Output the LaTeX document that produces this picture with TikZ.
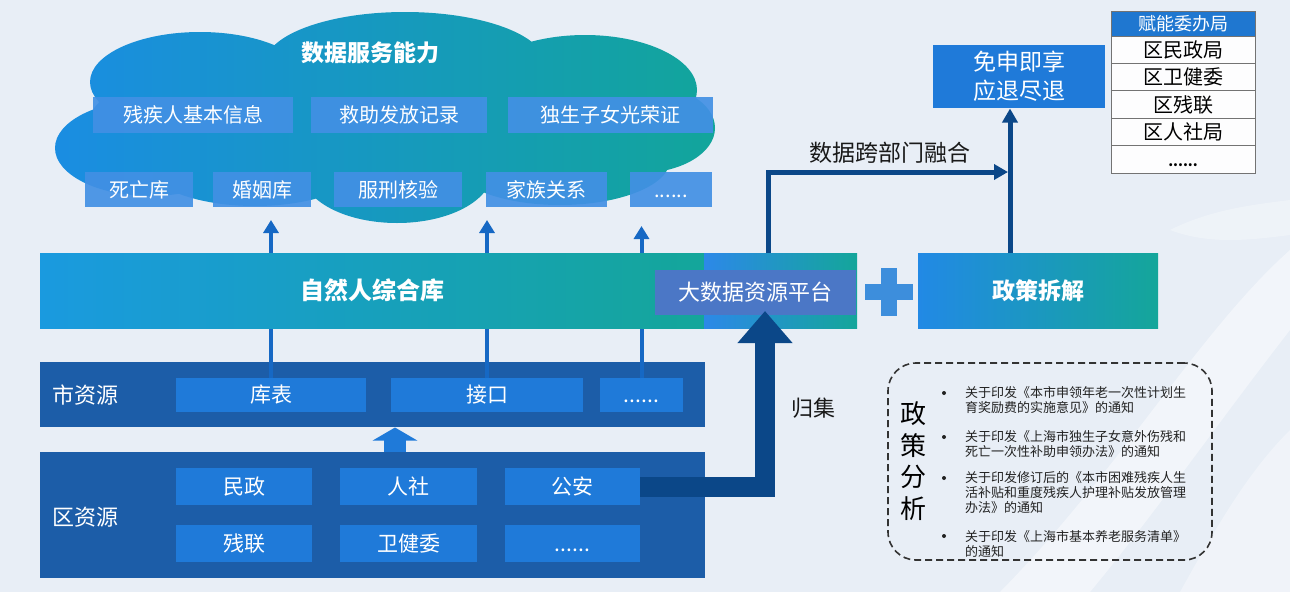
\documentclass[tikz,border=0pt]{standalone}
\usepackage{fontspec}
\setmainfont{Noto Sans CJK SC}
\usetikzlibrary{arrows.meta,calc}
\definecolor{bgc}{HTML}{E8EEF6}
\definecolor{cblue}{HTML}{1A8DE2}
\definecolor{cteal}{HTML}{12A59B}
\definecolor{cbox}{HTML}{4290E4}
\definecolor{bandL}{HTML}{1A9ADF}
\definecolor{bandR}{HTML}{14A69A}
\definecolor{platc}{HTML}{4B77C6}
\definecolor{darkband}{HTML}{1C5DA8}
\definecolor{innerbox}{HTML}{1F7AD9}
\definecolor{navy}{HTML}{0B4788}
\definecolor{thinarr}{HTML}{1668C4}
\definecolor{plusc}{HTML}{3D8EDC}
\definecolor{hdr}{HTML}{1F77D0}
\definecolor{txtc}{HTML}{222222}
\newcommand{\dotsrow}{\vphantom{库}......}
\begin{document}
\begin{tikzpicture}[x=1pt,y=-1pt,
  every node/.style={inner sep=0pt, outer sep=0pt},
  cloudbox/.style={fill=cbox, fill opacity=0.92, text opacity=1, text=white,
    font=\fontsize{20}{24}\selectfont, minimum height=36},
  darkpanel/.style={fill=darkband, minimum width=665},
  resbox/.style={fill=innerbox, text=white, font=\fontsize{21}{25}\selectfont},
  panellabel/.style={text=white, font=\fontsize{22}{26}\selectfont},
  upthin/.style={thinarr, line width=4pt, -{Triangle[length=13pt,width=15pt]}},
  navyarr/.style={navy, line width=5pt, -{Triangle[length=14pt,width=15pt]}},
  tabrow/.style={draw=black!55, line width=0.8pt, fill=white!90!bgc, minimum width=144,
    minimum height=27.4, text=black, font=\fontsize{20}{24}\selectfont},
  poltext/.style={anchor=west, text=txtc, font=\fontsize{13}{15}\selectfont},
  bulletmark/.style={fill=txtc, circle, minimum size=4pt},
  blacklabel/.style={text=black!90, font=\fontsize{23}{27}\selectfont}
]
% background
\fill[bgc] (0,0) rectangle (1290,592);
\path[use as bounding box] (0,0) rectangle (1290,592);
\fill[white, opacity=0.45] (1000,592) .. controls (1120,470) and (1200,330) .. (1290,250) -- (1290,330) .. controls (1220,420) and (1150,520) .. (1090,592) -- cycle;
\fill[white, opacity=0.35] (1180,592) .. controls (1220,520) and (1250,470) .. (1290,430) -- (1290,592) -- cycle;
\fill[white, opacity=0.3] (1170,230) .. controls (1210,210) and (1250,205) .. (1290,200) -- (1290,235) .. controls (1250,240) and (1210,245) .. (1170,230) -- cycle;

% cloud
\shade[left color=cblue, right color=cteal]
  (200,82) ellipse [x radius=110pt, y radius=50pt]
  (405,64) ellipse [x radius=140pt, y radius=52pt]
  (585,90) ellipse [x radius=112pt, y radius=55pt]
  (640,128) ellipse [x radius=75pt, y radius=45pt]
  (150,148) ellipse [x radius=95pt, y radius=48pt]
  (397,172) ellipse [x radius=95pt, y radius=51pt]
  (560,160) ellipse [x radius=110pt, y radius=45pt]
  (255,162) ellipse [x radius=110pt, y radius=44pt]
  (390,120) ellipse [x radius=300pt, y radius=72pt];
\node[text=white, font=\bfseries\fontsize{23}{27}\selectfont] (dsa) at (370,53) {数据服务能力};
\node[cloudbox, minimum width=200] (c1) at (193,115) {残疾人基本信息};
\node[cloudbox, minimum width=176] (c2) at (399,115) {救助发放记录};
\node[cloudbox, minimum width=205] (c3) at (610.5,115) {独生子女光荣证};
\node[cloudbox, minimum width=108, minimum height=35] (d1) at (139,189.5) {死亡库};
\node[cloudbox, minimum width=98, minimum height=35] (d2) at (262,189.5) {婚姻库};
\node[cloudbox, minimum width=128, minimum height=35] (d3) at (398,189.5) {服刑核验};
\node[cloudbox, minimum width=121, minimum height=35] (d4) at (546.5,189.5) {家族关系};
\node[cloudbox, minimum width=82, minimum height=35] (d5) at (671,189.5) {\dotsrow};

% 市资源 panel
\node[darkpanel, minimum height=65] (shi) at (372.5,394.5) {};
\node[panellabel] (shil) at (85,395) {市资源};
\node[resbox, minimum width=190, minimum height=34] (kb) at (271,395) {库表};
\node[resbox, minimum width=192, minimum height=34] (jk) at (487,395) {接口};
\node[resbox, minimum width=83, minimum height=34] (sd) at (641.5,395) {\dotsrow};

% thin arrows up to cloud
\coordinate (t1) at (271,220);
\coordinate (t2) at (487,220);
\coordinate (t3) at (641.5,226);
\draw[upthin] (kb.north) -- (t1);
\draw[upthin] (jk.north) -- (t2);
\draw[upthin] (sd.north) -- (t3);

% 自然人综合库 band
\node[left color=bandL, right color=bandR, minimum width=664, minimum height=75,
  text=white, font=\bfseries\fontsize{24}{28}\selectfont] (zrr) at (372,290.5) {自然人综合库};
\node[left color=bandL!80!blue!90!white, right color=bandR, minimum width=153, minimum height=75] (platbg) at (780.5,290.5) {};
\node[fill=platc, text=white, minimum width=201, minimum height=45,
  font=\fontsize{22}{26}\selectfont] (plat) at (755.5,292) {大数据资源平台};

% plus sign
\node[fill=plusc, minimum width=48, minimum height=16] (plush) at (889,292) {};
\node[fill=plusc, minimum width=16, minimum height=48] (plusv) at (889,292) {};

% 政策拆解
\node[left color=bandL!85!blue!95!white, right color=bandR, minimum width=240, minimum height=75,
  text=white, font=\bfseries\fontsize{23}{27}\selectfont] (zccj) at (1038,290.5) {政策拆解};

% 免申即享
\node[fill=innerbox, text=white, minimum width=172, minimum height=63, align=center,
  font=\fontsize{23}{29}\selectfont] (mszx) at (1019,76.5) {免申即享\\应退尽退};

% navy connectors
\coordinate (vb) at (1010,253);
\coordinate (vt) at (1010,108.5);
\coordinate (hs) at (768,253);
\coordinate (he) at (1008,172);
\draw[navyarr] (vb) -- (vt);
\draw[navyarr] (hs) |- (he);
\node[blacklabel] (kbm) at (890,153) {数据跨部门融合};

% table
\node[draw=black!55, line width=0.8pt, fill=hdr, text=white, minimum width=144, minimum height=25,
  font=\fontsize{18}{22}\selectfont] (th) at (1183,23.5) {赋能委办局};
\node[tabrow] (r1) at (1183,49.7) {区民政局};
\node[tabrow] (r2) at (1183,77.1) {区卫健委};
\node[tabrow] (r3) at (1183,104.5) {区残联};
\node[tabrow] (r4) at (1183,131.9) {区人社局};
\node[tabrow, font=\bfseries\fontsize{14}{16}\selectfont] (r5) at (1183,159.3) {\vphantom{区}\raisebox{-3pt}{......}};

% 区资源 panel
\node[darkpanel, minimum height=126] (qu) at (372.5,515) {};
\node[panellabel] (qul) at (85,517) {区资源};
\node[resbox, minimum width=136, minimum height=37] (mz) at (244,486.5) {民政};
\node[resbox, minimum width=137, minimum height=37] (rs) at (408.5,486.5) {人社};
\node[resbox, minimum width=135, minimum height=37] (ga) at (572.5,486.5) {公安};
\node[resbox, minimum width=136, minimum height=37] (cl) at (244,543.5) {残联};
\node[resbox, minimum width=137, minimum height=37] (wjw) at (408.5,543.5) {卫健委};
\node[resbox, minimum width=135, minimum height=37] (qd) at (572.5,543.5) {\dotsrow};

% fat arrow 区 -> 市
\coordinate (fa1) at (395,452);
\coordinate (fa2) at (395,427.5);
\draw[innerbox, line width=22pt, -{Triangle[length=13pt,width=44pt]}] (fa1) -- (fa2);

% 归集 fat arrow
\coordinate (gjtip) at (765,311);
\draw[navy, line width=20pt, line join=miter, -{Triangle[length=32pt,width=53pt]}] (ga.east) -- (765,486.5) -- (gjtip);
\node[blacklabel, font=\fontsize{22}{26}\selectfont] (gj) at (813,408) {归集};

% 政策分析 box
\node[draw=black!80, dashed, dash pattern=on 7pt off 4pt, line width=1.6pt, rounded corners=28pt,
  minimum width=324, minimum height=197] (zcfx) at (1050,461.5) {};
\node[align=center, text=black, font=\fontsize{26}{31.5}\selectfont] (zcfxl) at (913,461) {政\\策\\分\\析};

\node[bulletmark] (b1) at (944,393) {};
\node[poltext] (p1a) at (965,393) {关于印发《本市申领年老一次性计划生};
\node[poltext] (p1b) at (965,408) {育奖励费的实施意见》的通知};
\node[bulletmark] (b2) at (944,437) {};
\node[poltext] (p2a) at (965,437) {关于印发《上海市独生子女意外伤残和};
\node[poltext] (p2b) at (965,452) {死亡一次性补助申领办法》的通知};
\node[bulletmark] (b3) at (944,478) {};
\node[poltext] (p3a) at (965,478) {关于印发修订后的《本市困难残疾人生};
\node[poltext] (p3b) at (965,493) {活补贴和重度残疾人护理补贴发放管理};
\node[poltext] (p3c) at (965,508) {办法》的通知};
\node[bulletmark] (b4) at (944,536) {};
\node[poltext] (p4a) at (965,537) {关于印发《上海市基本养老服务清单》};
\node[poltext] (p4b) at (965,552) {的通知};
\end{tikzpicture}
\end{document}
